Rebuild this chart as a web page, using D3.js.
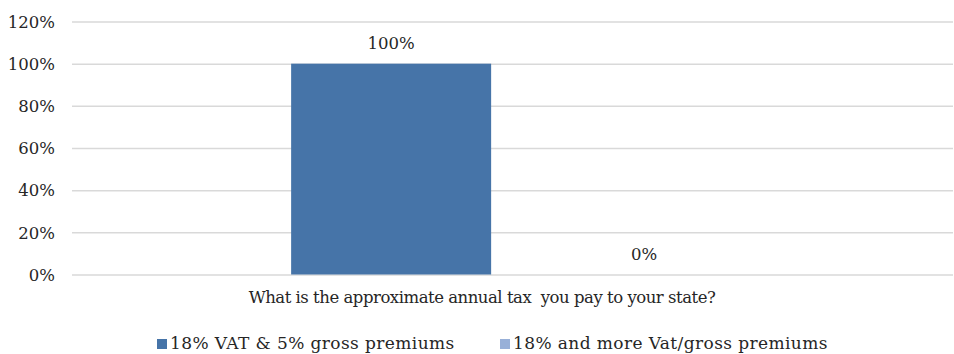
<!DOCTYPE html>
<html>
<head>
<meta charset="utf-8">
<script src="https://cdn.jsdelivr.net/npm/d3@7"></script>
<style>
  html, body { margin: 0; padding: 0; background: #ffffff; }
  svg text { font-family: "DejaVu Serif", serif; fill: #262626; }
</style>
</head>
<body>
<svg id="chart" width="954" height="354"></svg>
<script>
// Survey answer: share of respondents per tax bracket
const categories = ["What is the approximate annual tax  you pay to your state?"];
const seriesNames = ["18% VAT & 5% gross premiums", "18% and more Vat/gross premiums"];
const seriesValues = [1.00, 0.00];
const yTicks = [0, 0.2, 0.4, 0.6, 0.8, 1.0, 1.2];
const seriesColors = ["#4674a8", "#98b0d8"];

const svg = d3.select("#chart");
const margin = { left: 72, right: 1, top: 21.5, bottom: 79.5 };
const W = 954, H = 354;
const fontSize = 16.5;
const legendSize = 17;

const y = d3.scaleLinear()
  .domain([0, 1.2])
  .range([H - margin.bottom, margin.top]);

const x0 = d3.scaleBand()
  .domain(categories)
  .range([margin.left, W - margin.right])
  .paddingOuter(0.4724)
  .paddingInner(0)
  .align(0.512);

const x1 = d3.scaleBand()
  .domain(seriesNames)
  .range([0, x0.bandwidth()])
  .paddingInner(0.2095)
  .paddingOuter(0);

// Horizontal gridlines
const grid = svg.append("g")
  .attr("transform", `translate(${margin.left},0)`)
  .call(d3.axisLeft(y).tickValues(yTicks).tickSize(-(W - margin.left - margin.right)).tickFormat(""));
grid.select(".domain").remove();
grid.selectAll("line").attr("stroke", "#d9d9d9").attr("stroke-width", 1.5);

// Y axis tick labels
const yAxis = svg.append("g")
  .attr("transform", `translate(${margin.left - 17},0)`)
  .call(d3.axisLeft(y).tickValues(yTicks).tickSize(0).tickFormat(d3.format(".0%")));
yAxis.select(".domain").remove();
yAxis.selectAll("text")
  .attr("x", 0)
  .attr("dy", "0.35em")
  .style("font-size", fontSize + "px")
  .style("font-family", "'DejaVu Serif', serif")
  .attr("fill", "#262626");

// Bars
const rows = seriesNames.map((s, i) => ({ cat: categories[0], series: s, value: seriesValues[i], color: seriesColors[i] }));

svg.append("g").selectAll("rect")
  .data(rows)
  .join("rect")
  .attr("x", d => x0(d.cat) + x1(d.series))
  .attr("width", x1.bandwidth())
  .attr("y", d => y(d.value))
  .attr("height", d => y(0) - y(d.value))
  .attr("fill", d => d.color);

// Value labels above the bars
svg.append("g").selectAll("text")
  .data(rows)
  .join("text")
  .attr("x", d => x0(d.cat) + x1(d.series) + x1.bandwidth() / 2)
  .attr("y", d => y(d.value) - 15)
  .attr("text-anchor", "middle")
  .style("font-size", fontSize + "px")
  .text(d => d3.format(".0%")(d.value));

// Category label, centred under the plot area
svg.append("text")
  .attr("x", 482)
  .attr("y", 303)
  .attr("text-anchor", "middle")
  .style("font-size", fontSize + "px")
  .style("letter-spacing", "-0.48px")
  .style("white-space", "pre")
  .attr("xml:space", "preserve")
  .text(categories[0]);

// Legend
const legendX = [157, 500];
const legend = svg.append("g").selectAll("g")
  .data(seriesNames)
  .join("g")
  .attr("transform", (d, i) => `translate(${legendX[i]},339)`);
legend.append("rect")
  .attr("width", 10).attr("height", 10)
  .attr("fill", (d, i) => seriesColors[i]);
legend.append("text")
  .attr("x", 13)
  .attr("y", 10)
  .style("font-size", legendSize + "px")
  .style("letter-spacing", "0.4px")
  .text(d => d);
</script>
</body>
</html>
